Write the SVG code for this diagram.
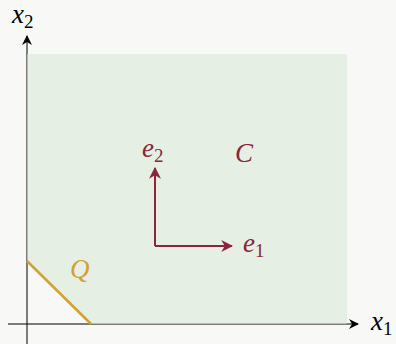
<svg xmlns="http://www.w3.org/2000/svg" width="396" height="344" viewBox="0 0 396 344">
<style>
.ax{stroke:#000;stroke-width:1;fill:none}
.vec{stroke:#8b2539;stroke-width:2;fill:none}
.lab{font-family:"Liberation Serif",serif;font-style:italic;font-size:27px}
.sub{font-style:normal;font-size:19px}
</style>
<defs>
<marker id="ah" viewBox="0 0 10 10" refX="9" refY="5" markerWidth="10" markerHeight="10" markerUnits="userSpaceOnUse" orient="auto"><path d="M0,0 L10,5 L0,10 L3,5 Z" fill="#000"/></marker>
<marker id="vh" viewBox="0 0 10 10" refX="9" refY="5" markerWidth="12" markerHeight="12" markerUnits="userSpaceOnUse" orient="auto"><path d="M0,0 L10,5 L0,10 L3,5 Z" fill="#8b2539"/></marker>
</defs>
<rect width="396" height="344" fill="#f8f9f6"/>
<g id="connectors">
<line class="ax" x1="8" y1="324" x2="358" y2="324" marker-end="url(#ah)"/>
<line class="ax" x1="27" y1="344" x2="27" y2="36" marker-end="url(#ah)"/>
</g>
<g id="C">
<path d="M27,54 L347,54 L347,324 L91,324 L27,261 Z" fill="#d8e8d8" fill-opacity="0.6"/>
<text class="lab" x="235" y="162" fill="#8b2539">C</text>
</g>
<g id="Q">
<line x1="27" y1="261" x2="91" y2="324" stroke="#d4a030" stroke-width="2.5"/>
<text class="lab" x="70" y="278" fill="#d4a030">Q</text>
</g>
<g id="e1">
<line class="vec" x1="155" y1="246" x2="232" y2="246" marker-end="url(#vh)"/>
<text class="lab" x="243" y="252" fill="#8b2539">e<tspan class="sub" dy="5">1</tspan></text>
</g>
<g id="e2">
<line class="vec" x1="155" y1="246" x2="155" y2="168" marker-end="url(#vh)"/>
<text class="lab" x="142" y="157" fill="#8b2539">e<tspan class="sub" dy="5">2</tspan></text>
</g>
<g id="x1label">
<text class="lab" x="371" y="330" fill="#000">x<tspan class="sub" dy="5">1</tspan></text>
</g>
<g id="x2label">
<text class="lab" x="12" y="23" fill="#000">x<tspan class="sub" dy="5">2</tspan></text>
</g>
</svg>
